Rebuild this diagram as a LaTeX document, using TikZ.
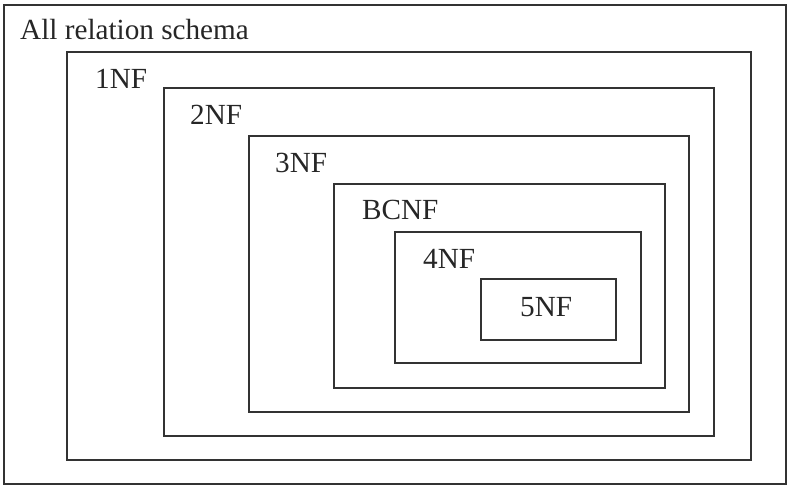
\documentclass[tikz,border=0pt]{standalone}
\usepackage{fontspec}
\setmainfont{Liberation Serif}
\begin{document}
\begin{tikzpicture}[x=1pt,y=-1pt,
  nfbox/.style={draw=black!80,line width=1.8pt},
  lbl/.style={anchor=base west,inner sep=0pt,text=black!85,font=\fontsize{29.2}{31}\selectfont}]
\useasboundingbox (0,0) rectangle (791,487);
\fill[white] (0,0) rectangle (791,487);
\draw[nfbox] (4,5) rectangle (786,484);
\draw[nfbox] (67,52) rectangle (751,460);
\draw[nfbox] (164,88) rectangle (714,436);
\draw[nfbox] (249,136) rectangle (689,412);
\draw[nfbox] (334,184) rectangle (665,388);
\draw[nfbox] (395,232) rectangle (641,363);
\draw[nfbox] (481,279) rectangle (616,340);
\node[lbl] (all) at (20,40) {All relation schema};
\node[lbl] (n1) at (95,88) {1NF};
\node[lbl] (n2) at (190,124) {2NF};
\node[lbl] (n3) at (275,172) {3NF};
\node[lbl] (bc) at (362,219) {BCNF};
\node[lbl] (n4) at (423,268) {4NF};
\node[lbl] (n5) at (520,316) {5NF};
\end{tikzpicture}
\end{document}
